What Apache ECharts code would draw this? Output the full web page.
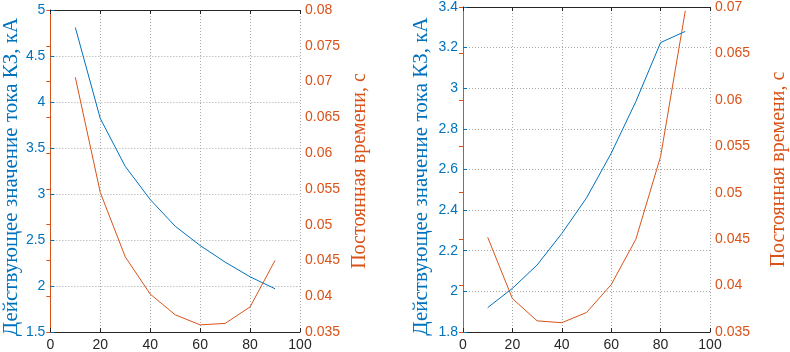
<!DOCTYPE html>
<html>
<head>
<meta charset="utf-8">
<script src="https://cdn.jsdelivr.net/npm/echarts@6/dist/echarts.min.js"></script>
<style>
  html, body { margin: 0; padding: 0; background: #fff; }
  #chart { width: 790px; height: 352px; }
</style>
</head>
<body>
<div id="chart"></div>
<script>
// ось X — общая для обоих графиков
const xValues = [10, 20, 30, 40, 50, 60, 70, 80, 90]

// левый график
const currentLeft = [4.81, 3.82, 3.30, 2.94, 2.65, 2.44, 2.26, 2.10, 1.97]   // кА
const timeLeft = [0.0706, 0.0545, 0.0455, 0.0403, 0.0374, 0.0360, 0.0362, 0.0385, 0.0450] // с

// правый график
const currentRight = [1.92, 2.015, 2.13, 2.285, 2.46, 2.68, 2.935, 3.225, 3.28]
const timeRight = [0.0452, 0.0386, 0.0362, 0.0360, 0.0371, 0.0401, 0.0450, 0.0539, 0.0696]

const leftName = 'Действующее значение тока КЗ, кА'
const rightName = 'Постоянная времени, с'

const BLUE = '#0072BD'
const ORANGE = '#D95319'
const DARK = '#262626'
const sans = 'Liberation Sans'
const serif = 'Liberation Serif'

const gridLine = { show: true, lineStyle: { color: '#a8a8a8', type: [1, 2], width: 1 } }

function bottomX(gi) {
  return {
    type: 'value', gridIndex: gi, min: 0, max: 100, interval: 20,
    axisLine: { show: true, lineStyle: { color: DARK } },
    axisTick: { show: true, inside: true, length: 4, lineStyle: { color: DARK } },
    axisLabel: { color: DARK, fontFamily: sans, fontSize: 14, margin: 6 },
    splitLine: gridLine,
  }
}
function topX(gi) {
  return {
    type: 'value', gridIndex: gi, position: 'top', min: 0, max: 100, interval: 20,
    axisLine: { show: true, lineStyle: { color: DARK } },
    axisTick: { show: true, inside: true, length: 4, lineStyle: { color: DARK } },
    axisLabel: { show: false }, splitLine: { show: false },
  }
}
function yAxis(gi, pos, color, min, max, interval, name, gap, fs, pad, split) {
  return {
    type: 'value', gridIndex: gi, position: pos, min, max, interval,
    name, nameLocation: 'middle', nameGap: gap,
    nameTextStyle: { color, fontFamily: serif, fontSize: fs, padding: pad },
    axisLine: { show: true, lineStyle: { color } },
    axisTick: { show: true, inside: true, length: 4, lineStyle: { color } },
    axisLabel: { color, fontFamily: sans, fontSize: 14, margin: 5 },
    splitLine: split ? gridLine : { show: false },
  }
}

const chart = echarts.init(document.getElementById('chart'))

function line(data, color, xi, yi) {
  return {
    type: 'line', xAxisIndex: xi, yAxisIndex: yi,
    data: xValues.map((x, i) => [x, data[i]]),
    symbol: 'none', lineStyle: { color, width: 1 }, animation: false,
  }
}

chart.setOption({
  animation: false,
  grid: [
    { left: 47, right: 490, top: 10, bottom: 19 },
    { left: 463, right: 71, top: 5, bottom: 19 },
  ],
  xAxis: [bottomX(0), topX(0), bottomX(1), topX(1)],
  yAxis: [
    yAxis(0, 'left', BLUE, 1.5, 5, 0.5, leftName, 28, 21, [0, 12, 0, 0], true),
    yAxis(0, 'right', ORANGE, 0.035, 0.08, 0.005, rightName, 50, 20, 0, false),
    yAxis(1, 'left', BLUE, 1.8, 3.4, 0.2, leftName, 31, 21, [0, 14, 0, 0], true),
    yAxis(1, 'right', ORANGE, 0.035, 0.07, 0.005, rightName, 53, 20, [6, 0, 0, 0], false),
  ],
  series: [
    line(currentLeft, BLUE, 0, 0),
    line(timeLeft, ORANGE, 0, 1),
    line(currentRight, BLUE, 2, 2),
    line(timeRight, ORANGE, 2, 3),
  ],
})
</script>
</body>
</html>
